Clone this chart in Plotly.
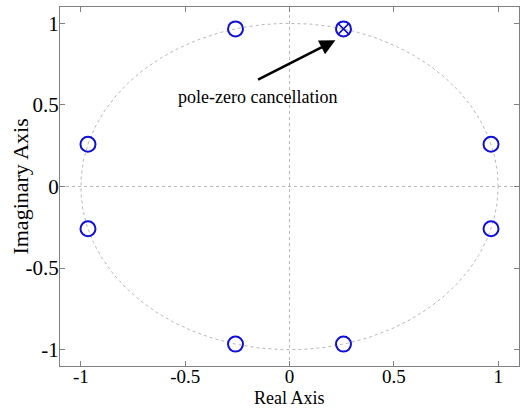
import numpy as np
import plotly.graph_objects as go

zero_re = [-0.2588, 0.2588, -0.9659, 0.9659, -0.9659, 0.9659, -0.2588, 0.2588]
zero_im = [0.9659, 0.9659, 0.2588, 0.2588, -0.2588, -0.2588, -0.9659, -0.9659]
pole_re = [0.2588]
pole_im = [0.9659]
ticks = [-1, -0.5, 0, 0.5, 1]
tick_text = ["-1", "-0.5", "0", "0.5", "1"]

SERIF = "Liberation Serif"
theta = np.linspace(0, 2 * np.pi, 361)
fig = go.Figure()
fig.add_trace(go.Scatter(x=np.cos(theta), y=np.sin(theta), mode="lines",
                         line=dict(color="#b8b8b8", width=1, dash="dot"), hoverinfo="skip"))
fig.add_trace(go.Scatter(x=[-1.1, 1.1], y=[0, 0], mode="lines",
                         line=dict(color="#b8b8b8", width=1, dash="dot"), hoverinfo="skip"))
fig.add_trace(go.Scatter(x=[0, 0], y=[-1.1, 1.1], mode="lines",
                         line=dict(color="#b8b8b8", width=1, dash="dot"), hoverinfo="skip"))
fig.add_trace(go.Scatter(x=zero_re, y=zero_im, mode="markers",
                         marker=dict(symbol="circle-open", size=15, color="#1010d8", line=dict(width=2))))
fig.add_trace(go.Scatter(x=pole_re, y=pole_im, mode="markers",
                         marker=dict(symbol="x-thin-open", size=10, color="#1010d8", line=dict(width=1.5))))

fig.add_annotation(x=0.22, y=0.896, ax=-0.158, ay=0.65, xref="x", yref="y", axref="x", ayref="y",
                   text="", showarrow=True, arrowhead=2, arrowsize=1.2, arrowwidth=2.6, arrowcolor="black")
fig.add_annotation(x=-0.155, y=0.546, xref="x", yref="y", text="pole-zero cancellation", showarrow=False,
                   font=dict(family=SERIF, size=18, color="black"))

fig.add_annotation(x=0.5, y=0, xref="paper", yref="paper", yshift=-32, text="Real Axis", showarrow=False,
                   xanchor="center", yanchor="middle", font=dict(family=SERIF, size=18, color="black"))
fig.add_annotation(x=-0.087, y=0.5, xref="paper", yref="paper", text="Imaginary Axis", showarrow=False,
                   textangle=-90, xanchor="center", yanchor="middle",
                   font=dict(family=SERIF, size=22, color="black"))

axis_common = dict(range=[-1.1, 1.1], tickvals=ticks, ticktext=tick_text, ticks="inside", ticklen=5,
                   tickcolor="#808080", showline=True, linecolor="#808080", linewidth=1, mirror="ticks",
                   showgrid=False, zeroline=False, automargin=False)
fig.update_xaxes(**axis_common, ticklabelstandoff=-7,
                 tickfont=dict(family=SERIF, size=19, color="black"))
fig.update_yaxes(**axis_common, ticklabelstandoff=-4,
                 tickfont=dict(family=SERIF, size=21, color="black"))
fig.update_layout(width=520, height=409, margin=dict(l=60, r=1, t=7, b=43),
                  plot_bgcolor="white", paper_bgcolor="white", showlegend=False)
fig.write_html("out.html", config={"displayModeBar": False},
               post_script="document.body.style.margin='0';document.body.style.overflow='hidden';")
